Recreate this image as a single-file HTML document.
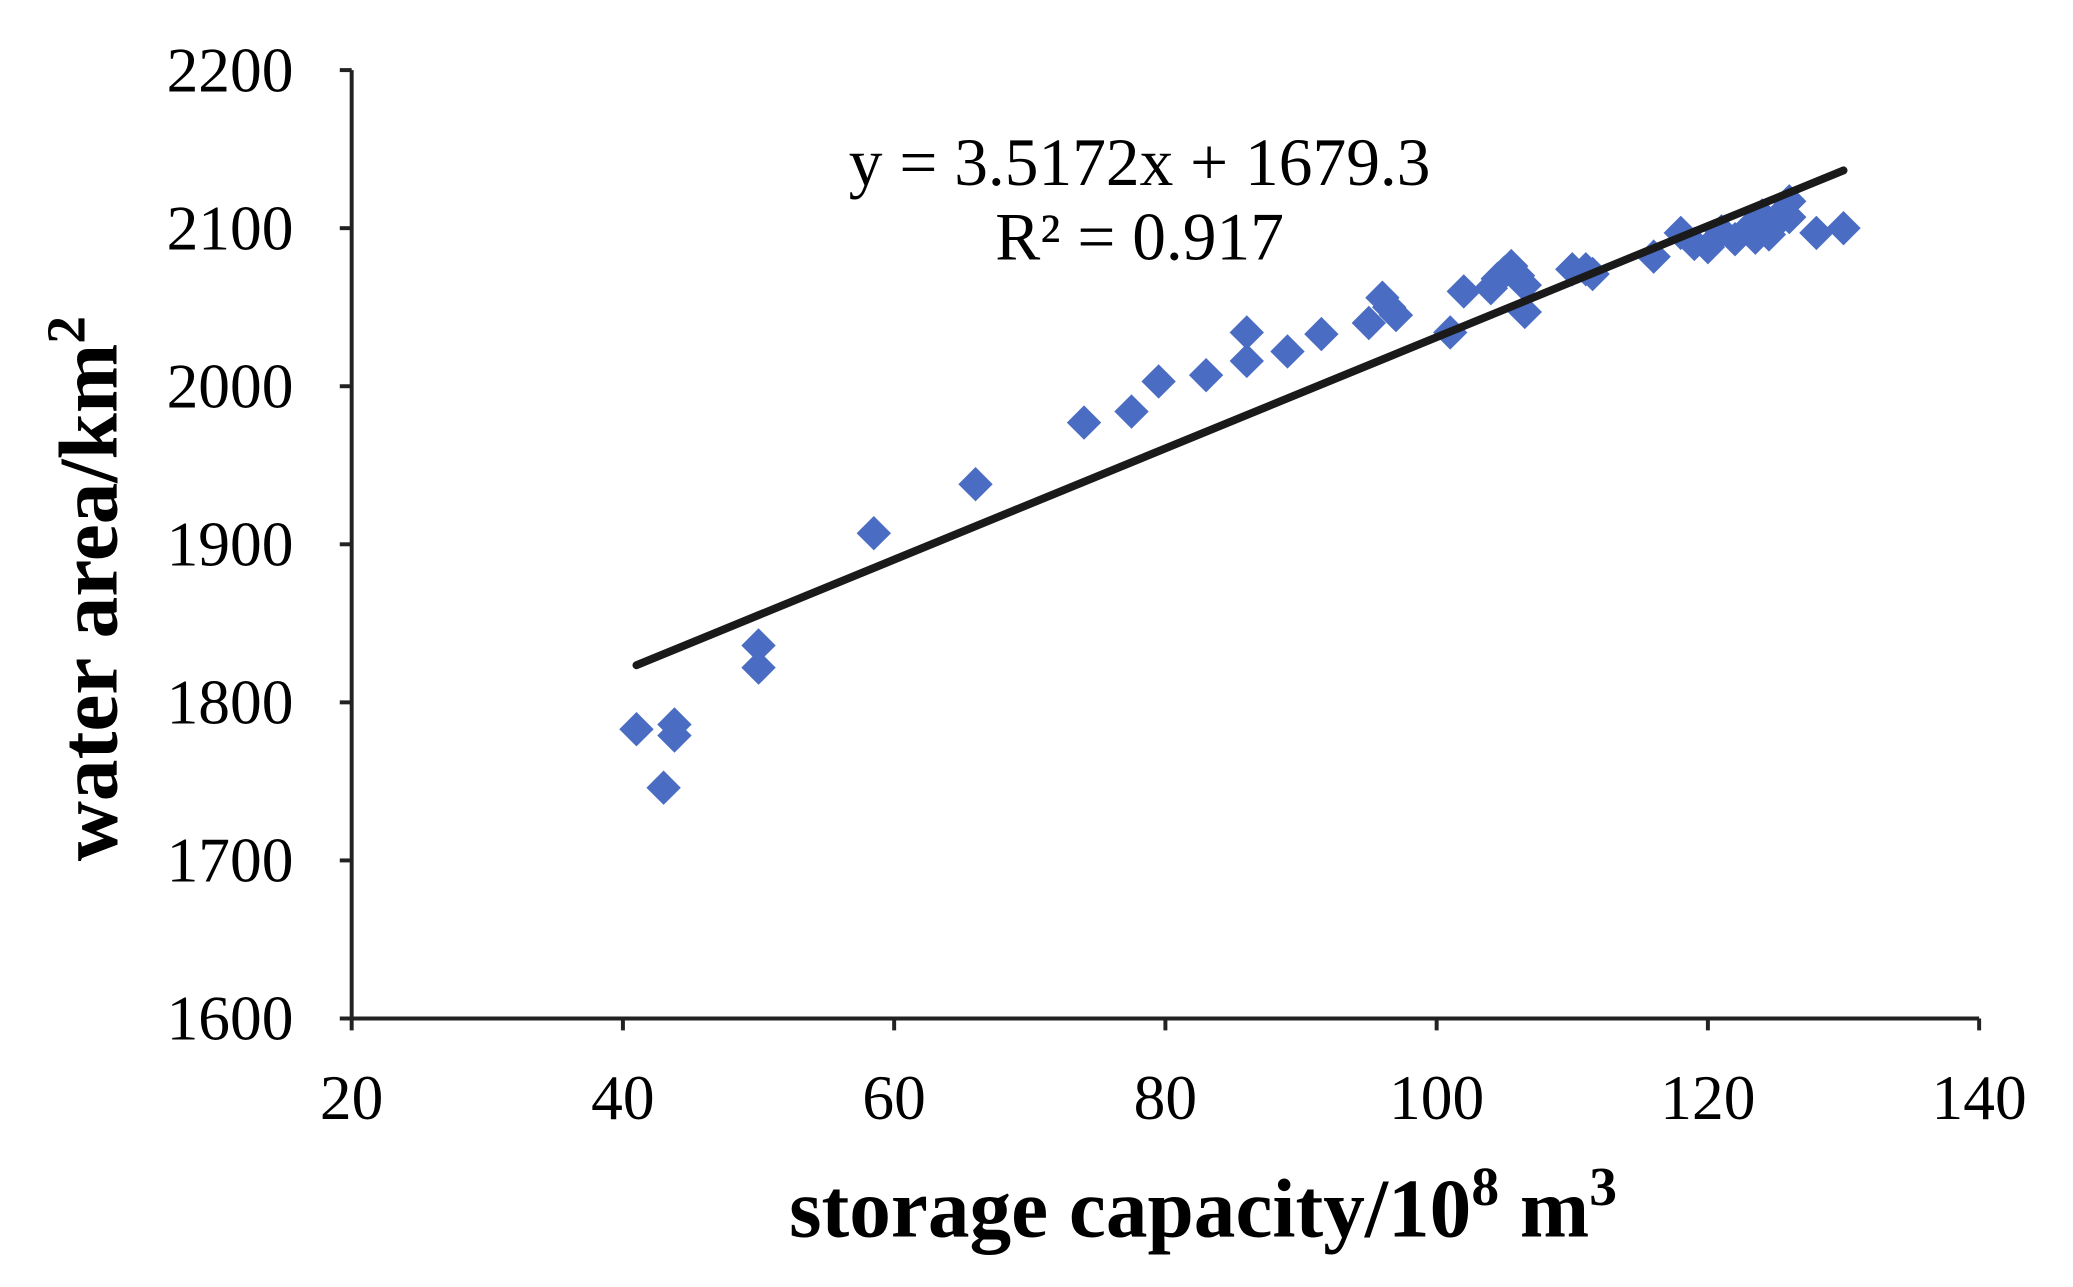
<!DOCTYPE html>
<html><head><meta charset="utf-8">
<style>
html,body{margin:0;padding:0;background:#fff;}
svg{display:block;}
text{font-family:"Liberation Serif",serif;fill:#000;}
</style></head>
<body>
<svg id="chart" width="2073" height="1287" viewBox="0 0 1568 973" preserveAspectRatio="none" xmlns="http://www.w3.org/2000/svg">
<g id="axes"></g>
<g id="marks"></g>
<g id="trend"></g>
<text x="862" y="140" font-size="51" text-anchor="middle">y = 3.5172x + 1679.3</text>
<text x="862" y="196" font-size="51" text-anchor="middle">R² = 0.917</text>
<text x="910" y="935" font-size="63" font-weight="bold" text-anchor="middle">storage capacity/10<tspan font-size="42" dy="-24">8</tspan><tspan dy="24"> m</tspan><tspan font-size="42" dy="-24">3</tspan></text>
<text transform="translate(88,445) rotate(-90)" font-size="63" font-weight="bold" text-anchor="middle">water area/km<tspan font-size="42" dy="-24">2</tspan></text>
</svg>
<script>
const xTicks = [20, 40, 60, 80, 100, 120, 140];
const yTicks = [1600, 1700, 1800, 1900, 2000, 2100, 2200];
const xValues = [41,43,43.8,43.8,50,50,58.5,66,74,77.5,79.5,83,86,86,89,91.5,95,96,96.5,97,101,102,104,104.5,105,105.5,106,106.5,106.5,110,111,111.5,116,118,119,120,121,122,123,123.5,124,124.5,125,125.5,126,126,128,130];
const yValues = [1783,1746,1786,1779,1836,1822,1907,1938,1977,1984,2003,2007,2034,2016,2022,2033,2040,2056,2050,2045,2034,2060,2062,2068,2072,2076,2070,2064,2047,2074,2074,2071,2082,2097,2090,2088,2098,2093,2100,2094,2108,2096,2103,2110,2117,2107,2097,2100];
const trendSlope = 3.5172, trendIntercept = 1679.3, trendRange = [41, 130];

const NS = "http://www.w3.org/2000/svg";
const X0 = 266, X1 = 1497, Y0 = 770, Y1 = 53;
const xs = v => X0 + (v - 20) / 120 * (X1 - X0);
const ys = v => Y0 - (v - 1600) / 600 * (Y0 - Y1);
function mk(tag, attrs, parent) {
  const e = document.createElementNS(NS, tag);
  for (const k in attrs) e.setAttribute(k, attrs[k]);
  parent.appendChild(e); return e;
}
const axes = document.getElementById('axes');
let l = mk('line', {x1: X0, y1: Y1, x2: X0, y2: Y0, stroke: '#222', 'stroke-width': 3}, axes);


l = mk('line', {x1: X0, y1: Y0, x2: X1, y2: Y0, stroke: '#222', 'stroke-width': 3}, axes);


xTicks.forEach(t => {
  const tk = mk('line', {x1: xs(t), y1: Y0, x2: xs(t), y2: Y0 + 9, stroke: '#222', 'stroke-width': 3}, axes);
  
  
  const tx = mk('text', {x: xs(t), y: Y0 + 76, 'font-size': 48, 'text-anchor': 'middle'}, axes);
  tx.textContent = t;
  
  
});
yTicks.forEach(t => {
  const tk = mk('line', {x1: X0 - 9, y1: ys(t), x2: X0, y2: ys(t), stroke: '#222', 'stroke-width': 3}, axes);
  
  
  const tx = mk('text', {x: X0 - 44, y: ys(t) + 16, 'font-size': 48, 'text-anchor': 'end'}, axes);
  tx.textContent = t;
  
  
});
const marks = document.getElementById('marks');
xValues.forEach((xv, i) => {
  const cx = xs(xv), cy = ys(yValues[i]), r = 13;
  const p = mk('polygon', {points: `${cx},${cy - r} ${cx + r},${cy} ${cx},${cy + r} ${cx - r},${cy}`, fill: '#4a6cc3'}, marks);
  
  
});
const trend = document.getElementById('trend');
const tl = mk('line', {
  x1: xs(trendRange[0]), y1: ys(trendSlope * trendRange[0] + trendIntercept),
  x2: xs(trendRange[1]), y2: ys(trendSlope * trendRange[1] + trendIntercept),
  stroke: '#1a1a1a', 'stroke-width': 6, 'stroke-linecap': 'round'}, trend);


</script>
</body></html>
